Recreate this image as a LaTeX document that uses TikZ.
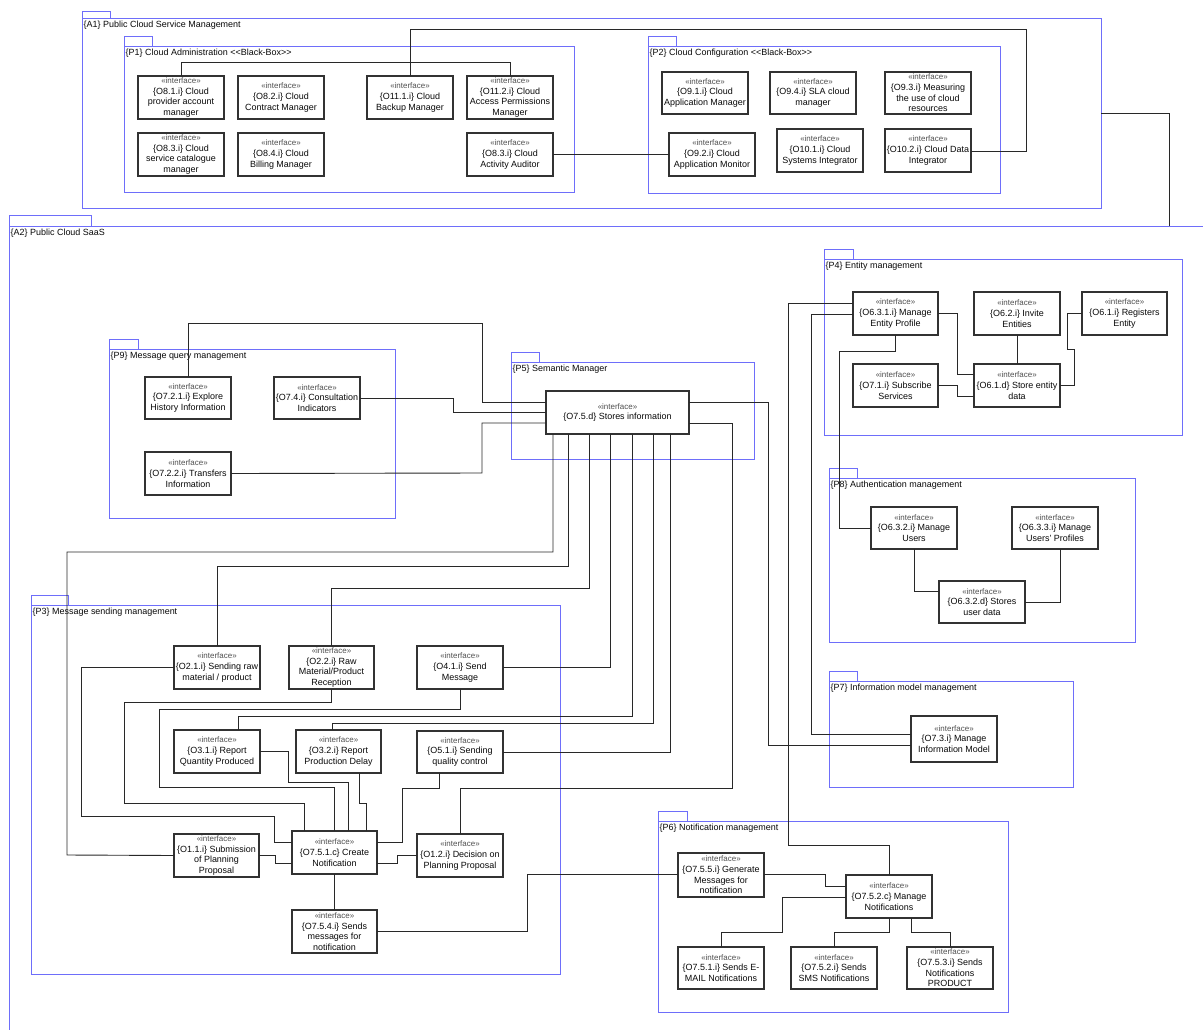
\documentclass[tikz,border=0pt]{standalone}
\usepackage{fontspec}
\setmainfont{Liberation Sans}
\definecolor{pkgc}{RGB}{110,110,250}
\definecolor{boxc}{RGB}{50,50,50}
\definecolor{wirec}{RGB}{40,40,40}
\definecolor{txt}{RGB}{10,10,10}
\definecolor{stc}{RGB}{80,80,80}
\newcommand{\st}{{\color{stc}\fontsize{8}{10.7}\selectfont «interface»}\\}
\newcommand{\ibox}[6]{\node[ibox, minimum width={(#4-#2)*1bp}, minimum height={(#5-#3)*1bp}] (#1) at ({(#2+#4)/2},{(#3+#5)/2}) {\st #6};}
\newcommand{\pkg}[8]{%
  \node[pkgframe, minimum width={(#4-#2)*1bp}, minimum height={(#5-#3)*1bp}] (#1) at ({(#2+#4)/2},{(#3+#5)/2}) {};
  \draw[pkgline] (#1.north west) rectangle ++(#6,-#7);
  \node[pkglabel, anchor=north west] (#1lbl) at ([xshift=1.5bp,yshift=-2.5bp]#1.north west) {#8};}
\begin{document}
\begin{tikzpicture}[x=1bp,y=-1bp,
  ibox/.style={draw=boxc, line width=1.2bp, fill=white, inner sep=0pt, outer sep=0pt, align=center, text=txt, font=\fontsize{9}{10.7}\selectfont},
  pkgframe/.style={draw=pkgc, line width=0.9bp, inner sep=0pt, outer sep=0pt},
  pkgline/.style={draw=pkgc, line width=0.9bp},
  pkglabel/.style={inner sep=0pt, text=txt, font=\fontsize{9}{10}\selectfont},
  wire/.style={draw=wirec, line width=0.9bp}]
\clip (0,0) rectangle (1203,1030);
\fill[white] (0,0) rectangle (1203,1030);

% ---------- packages ----------
\pkg{a1}{82}{18}{1101}{208}{28}{7}{\{A1\} Public Cloud Service Management}
\pkg{p1}{124}{46}{574}{192}{28}{10}{\{P1\} Cloud Administration {<}{<}Black-Box{>}{>}}
\pkg{p2}{648}{46}{1000}{193}{28}{10}{\{P2\} Cloud Configuration {<}{<}Black-Box{>}{>}}
\pkg{a2}{9}{226}{1215}{1045}{82}{11}{\{A2\} Public Cloud SaaS}
\pkg{p9}{109}{349}{395}{518}{29}{10}{\{P9\} Message query management}
\pkg{p5}{511}{362}{754}{459}{28}{10}{\{P5\} Semantic Manager}
\pkg{p4}{824}{259}{1182}{435}{29}{10}{\{P4\} Entity management}
\pkg{p8}{829}{478}{1135}{642}{28}{10}{\{P8\} Authentication management}
\pkg{p7}{829}{681}{1073}{787}{28}{10}{\{P7\} Information model management}
\pkg{p6}{658}{821}{1008}{1012}{29}{10}{\{P6\} Notification management}
\pkg{p3}{31}{605}{560}{974}{37}{10}{\{P3\} Message sending management}

% ---------- P1 ----------
\ibox{o81}{138}{76}{224}{119}{\{O8.1.i\} Cloud\\provider account\\manager}
\ibox{o82}{238}{76}{324}{119}{\{O8.2.i\} Cloud\\Contract Manager}
\ibox{o111}{367}{76}{453}{119}{\{O11.1.i\} Cloud\\Backup Manager}
\ibox{o112}{467}{76}{553}{119}{\{O11.2.i\} Cloud\\Access Permissions\\Manager}
\ibox{o83}{138}{133}{224}{176}{\{O8.3.i\} Cloud\\service catalogue\\manager}
\ibox{o84}{238}{133}{324}{176}{\{O8.4.i\} Cloud\\Billing Manager}
\ibox{o83b}{467}{133}{553}{176}{\{O8.3.i\} Cloud\\Activity Auditor}
% ---------- P2 ----------
\ibox{o91}{662}{72}{748}{114}{\{O9.1.i\} Cloud\\Application Manager}
\ibox{o94}{770}{72}{856}{114}{\{O9.4.i\} SLA cloud\\manager}
\ibox{o93}{885}{72}{971}{114}{\{O9.3.i\} Measuring\\the use of cloud\\resources}
\ibox{o92}{669}{133}{755}{176}{\{O9.2.i\} Cloud\\Application Monitor}
\ibox{o101}{777}{129}{863}{172}{\{O10.1.i\} Cloud\\Systems Integrator}
\ibox{o102}{885}{129}{971}{172}{\{O10.2.i\} Cloud Data\\Integrator}
% ---------- P9 ----------
\ibox{o721}{145}{377}{231}{419}{\{O7.2.1.i\} Explore\\History Information}
\ibox{o74}{274}{377}{360}{419}{\{O7.4.i\} Consultation\\Indicators}
\ibox{o722}{145}{452}{231}{495}{\{O7.2.2.i\} Transfers\\Information}
% ---------- P5 ----------
\ibox{stores}{546}{391}{689}{434}{\{O7.5.d\} Stores information}
% ---------- P4 ----------
\ibox{o631}{853}{292}{938}{335}{\{O6.3.1.i\} Manage\\Entity Profile}
\ibox{o62}{974}{292}{1060}{335}{\{O6.2.i\} Invite\\Entities}
\ibox{o61i}{1082}{292}{1167}{335}{\{O6.1.i\} Registers\\Entity}
\ibox{o71}{853}{364}{938}{407}{\{O7.1.i\} Subscribe\\Services}
\ibox{o61d}{974}{364}{1060}{407}{\{O6.1.d\} Store entity\\data}
% ---------- P8 ----------
\ibox{o632i}{871}{507}{957}{549}{\{O6.3.2.i\} Manage\\Users}
\ibox{o633}{1012}{507}{1098}{549}{\{O6.3.3.i\} Manage\\Users' Profiles}
\ibox{o632d}{939}{581}{1025}{623}{\{O6.3.2.d\} Stores\\user data}
% ---------- P7 ----------
\ibox{o73}{911}{716}{997}{762}{\{O7.3.i\} Manage\\Information Model}
% ---------- P3 ----------
\ibox{o21}{174}{646}{260}{689}{\{O2.1.i\} Sending raw\\material / product}
\ibox{o22}{289}{646}{374}{689}{\{O2.2.i\} Raw\\Material/Product\\Reception}
\ibox{o41}{417}{646}{503}{689}{\{O4.1.i\} Send\\Message}
\ibox{o31}{174}{730}{260}{773}{\{O3.1.i\} Report\\Quantity Produced}
\ibox{o32}{296}{730}{381}{773}{\{O3.2.i\} Report\\Production Delay}
\ibox{o51}{417}{731}{503}{773}{\{O5.1.i\} Sending\\quality control}
\ibox{o11}{174}{834}{259}{877}{\{O1.1.i\} Submission\\of Planning\\Proposal}
\ibox{o751c}{292}{831}{377}{874}{\{O7.5.1.c\} Create\\Notification}
\ibox{o12}{417}{834}{503}{877}{\{O1.2.i\} Decision on\\Planning Proposal}
\ibox{o754}{292}{910}{377}{953}{\{O7.5.4.i\} Sends\\messages for\\notification}
% ---------- P6 ----------
\ibox{o755}{678}{853}{764}{897}{\{O7.5.5.i\} Generate\\Messages for\\notification}
\ibox{o752c}{846}{875}{932}{918}{\{O7.5.2.c\} Manage\\Notifications}
\ibox{o751i}{678}{947}{764}{989}{\{O7.5.1.i\} Sends E-\\MAIL Notifications}
\ibox{o752i}{791}{947}{877}{989}{\{O7.5.2.i\} Sends\\SMS Notifications}
\ibox{o753}{907}{947}{993}{989}{\{O7.5.3.i\} Sends\\Notifications\\PRODUCT}

% ---------- connectors: A1 ----------
\draw[wire] (o81.north) -- (181,62) -- (510,62) -- (o112.north);
\draw[wire] (o111.north) -- (410,29) -- (1026,29) -- (1026,151) -- (o102.east |- 0,151);
\draw[wire] (o83b.east) -- (o92.west);
\draw[wire] (a1.east |- 0,113) -- (1169,113) -- (a2.north -| 1169,0);
% ---------- P9 / P5 ----------
\draw[wire] (o721.north) -- (188,323) -- (482,323) -- (482,402) -- (stores.west |- 0,402);
\draw[wire] (o74.east) -- (453,398) -- (453,412) -- (stores.west |- 0,412);
\draw[wire] (o722.east) -- (482,473) -- (482,423) -- (stores.west |- 0,423);
\draw[wire] (stores.east |- 0,402) -- (768,402) -- (768,745) -- (o73.west |- 0,745);
\draw[wire] (stores.east |- 0,423) -- (732,423) -- (732,788) -- (460,788) -- (o12.north);
\draw[wire] (stores.south -| 553,0) -- (553,552) -- (67,552) -- (67,855) -- (o11.west);
\draw[wire] (stores.south -| 568,0) -- (568,566) -- (217,566) -- (o21.north);
\draw[wire] (stores.south -| 589,0) -- (589,588) -- (331.5,588) -- (o22.north);
\draw[wire] (stores.south -| 610,0) -- (610,667.5) -- (o41.east);
\draw[wire] (stores.south -| 632,0) -- (632,716) -- (238,716) -- (o31.north -| 238,0);
\draw[wire] (stores.south -| 653,0) -- (653,723) -- (332,723) -- (o32.north -| 332,0);
\draw[wire] (stores.south -| 670,0) -- (670,752) -- (o51.east);
% ---------- P4 / P8 / P7 / P6 links ----------
\draw[wire] (o631.west |- 0,303) -- (788,303) -- (788,845) -- (889,845) -- (o752c.north);
\draw[wire] (o631.west |- 0,314) -- (811,314) -- (811,734) -- (o73.west |- 0,734);
\draw[wire] (o631.south) -- (895.5,351) -- (839,351) -- (839,528) -- (o632i.west);
\draw[wire] (o631.east) -- (957,313.5) -- (957,374) -- (o61d.west |- 0,374);
\draw[wire] (o62.south) -- (o61d.north);
\draw[wire] (o61i.west) -- (1067,313.5) -- (1067,349) -- (1074,349) -- (1074,385.5) -- (o61d.east);
\draw[wire] (o71.east) -- (957,385.5) -- (957,396) -- (o61d.west |- 0,396);
\draw[wire] (o632i.south) -- (914,591) -- (o632d.west |- 0,591);
\draw[wire] (o633.south -| 1060,0) -- (1060,602) -- (o632d.east |- 0,602);
% ---------- P6 ----------
\draw[wire] (o754.east) -- (527,931.5) -- (527,874) -- (o755.west |- 0,874);
\draw[wire] (o755.east |- 0,874) -- (825,874) -- (825,886) -- (o752c.west |- 0,886);
\draw[wire] (o752c.west |- 0,897) -- (782,897) -- (782,932) -- (721,932) -- (o751i.north);
\draw[wire] (o752c.south) -- (889,932) -- (834,932) -- (o752i.north);
\draw[wire] (o752c.south -| 911,0) -- (911,932) -- (950,932) -- (o753.north);
% ---------- P3 ----------
\draw[wire] (o21.west) -- (81,667.5) -- (81,816) -- (274,816) -- (274,842) -- (o751c.west |- 0,842);
\draw[wire] (o22.south) -- (331.5,702) -- (124,702) -- (124,803) -- (304,803) -- (o751c.north -| 304,0);
\draw[wire] (o41.south) -- (460,709) -- (159,709) -- (159,787) -- (334.5,787) -- (o751c.north);
\draw[wire] (o31.east) -- (288,751.5) -- (288,782) -- (348,782) -- (o751c.north -| 348,0);
\draw[wire] (o32.south -| 359,0) -- (359,803) -- (366,803) -- (o751c.north -| 366,0);
\draw[wire] (o51.south -| 439,0) -- (439,788) -- (402,788) -- (402,842) -- (o751c.east |- 0,842);
\draw[wire] (o11.east |- 0,855) -- (275,855) -- (275,863) -- (o751c.west |- 0,863);
\draw[wire] (o12.west |- 0,855) -- (397,855) -- (397,863) -- (o751c.east |- 0,863);
\draw[wire] (o751c.south) -- (o754.north);
\end{tikzpicture}
\end{document}
